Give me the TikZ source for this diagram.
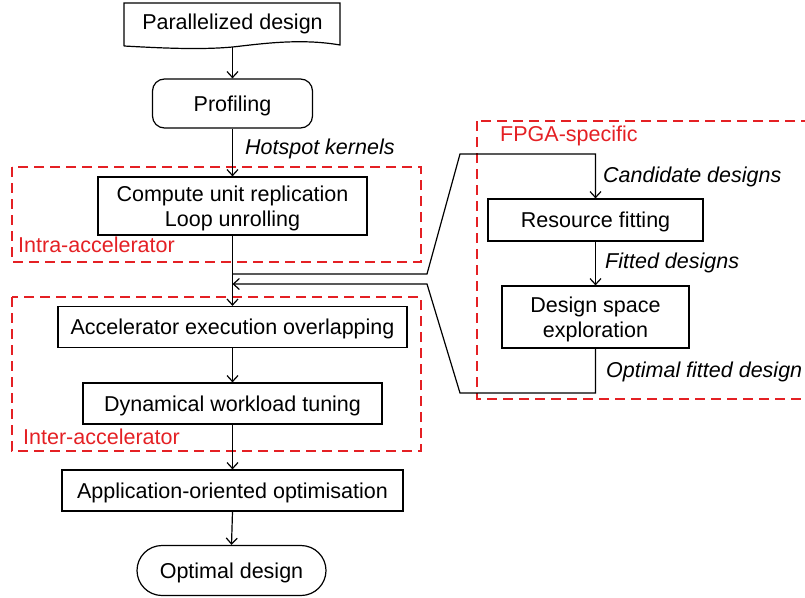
\documentclass[tikz,border=0pt]{standalone}
\usepackage{fontspec}
\setmainfont{Liberation Sans}
\usetikzlibrary{arrows.meta}
\definecolor{grpred}{RGB}{228,32,36}
\tikzset{
  base/.style={font=\fontsize{21.5}{25}\selectfont, text depth=0pt},
  box/.style={base, draw, line width=1.2pt, inner sep=0pt, align=center},
  arr/.style={line width=1.2pt, -{Straight Barb[length=6pt,width=11pt,line width=1.2pt]}},
  wire/.style={line width=1.2pt},
  group/.style={draw=grpred, line width=2pt, dash pattern=on 10pt off 6pt},
  grouplabel/.style={base, text=grpred, anchor=west, inner sep=0pt},
  flowlabel/.style={base, font=\fontsize{21.5}{25}\selectfont\itshape, anchor=west, inner sep=0pt},
}
\begin{document}
\begin{tikzpicture}[x=1pt,y=-1pt]
\useasboundingbox (0,0) rectangle (805,597);
\clip (0,0) rectangle (805,597);

% group frames
\draw[group] (12,167) rectangle (421,262);
\draw[group] (12,297) rectangle (421,451);
\draw[group] (477,121) rectangle (830,399);
\node[grouplabel] (intralbl) at (18,245) {Intra-accelerator};
\node[grouplabel] (interlbl) at (23,437) {Inter-accelerator};
\node[grouplabel] (fpgalbl) at (500,134) {FPGA-specific};

% document-shaped start box
\draw[wire] (124,46) -- (124,3) -- (340,3) -- (340,45)
  .. controls (300,38) and (260,44) .. (232.5,47)
  .. controls (200,50) and (160,48) .. (124,46);
\node[base, inner sep=0pt] (par) at (232.5,22) {Parallelized design};
\coordinate (parb) at (232.5,47);

% main flow
\node[box, rounded corners=12pt, minimum width=160pt, minimum height=49pt] (prof) at (232.5,103.5) {Profiling};
\node[box, minimum width=269pt, minimum height=58pt] (comp) at (232.5,206) {Compute unit replication\\Loop unrolling};
\node[box, minimum width=349pt, minimum height=41pt] (acc) at (232.5,327) {Accelerator execution overlapping};
\node[box, minimum width=299pt, minimum height=41pt] (dyn) at (232.5,403.5) {Dynamical workload tuning};
\node[box, minimum width=341pt, minimum height=41pt] (app) at (232.5,490.5) {Application-oriented optimisation};
\node[box, rounded corners=25pt, minimum width=189pt, minimum height=50pt] (opt) at (231.5,570.5) {Optimal design};

% FPGA-specific flow
\node[box, minimum width=215pt, minimum height=42pt] (rf) at (595.5,220) {Resource fitting};
\node[box, minimum width=187pt, minimum height=62pt] (dse) at (595.5,317) {Design space\\exploration};

% edge labels
\node[flowlabel] (hot) at (245,147) {Hotspot kernels};
\node[flowlabel] (cand) at (603,175) {Candidate designs};
\node[flowlabel] (fit) at (605,261) {Fitted designs};
\node[flowlabel] (optfit) at (606,370) {Optimal fitted design};

% connectors
\draw[arr] (parb) -- (prof.north);
\draw[arr] (prof.south) -- (comp.north);
\draw[arr] (comp.south) -- (acc.north);
\coordinate (jout) at (232.5,274);
\coordinate (jin) at (232.5,284);
\draw[arr] (jout) -- (427,274) -- (460,154) -- (595.5,154) -- (rf.north);
\draw[arr] (rf.south) -- (dse.north);
\draw[arr] (dse.south) -- (595.5,393) -- (460,393) -- (427,284) -- (jin);
\draw[arr] (acc.south) -- (dyn.north);
\draw[arr] (dyn.south) -- (app.north);
\draw[arr] (app.south) -- (opt.north);
\end{tikzpicture}
\end{document}
